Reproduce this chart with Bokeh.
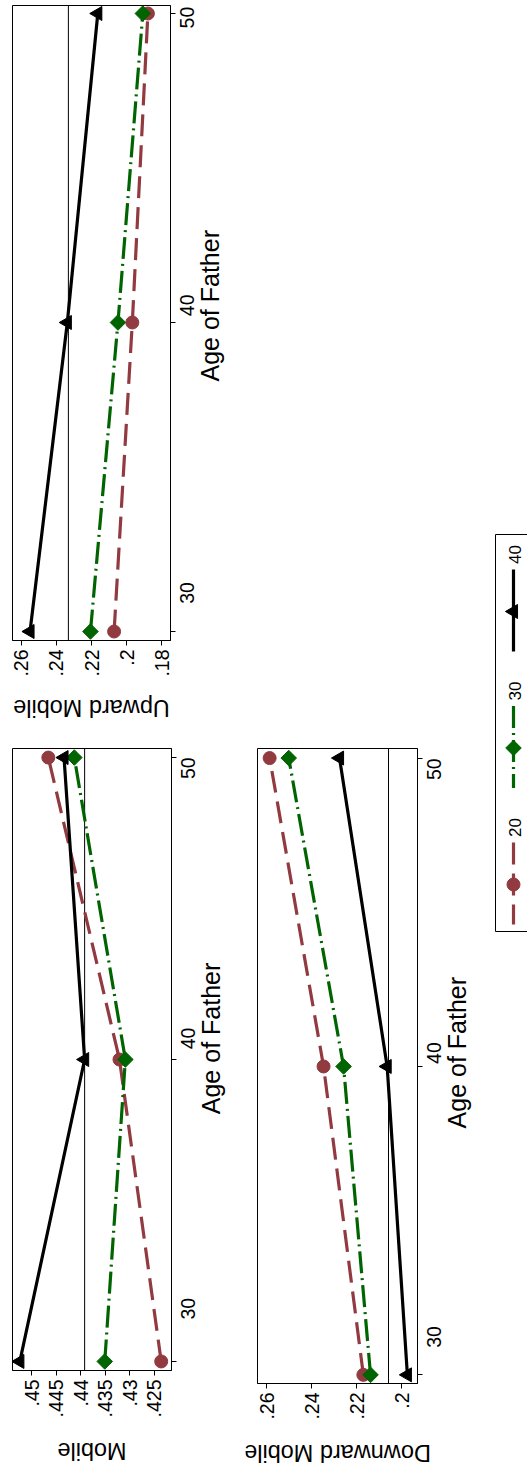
import math
from bokeh.plotting import figure
from bokeh.models import Range1d, FixedTicker, Span, Spacer, ColumnDataSource
from bokeh.layouts import row, column
from bokeh.embed import file_html
from bokeh.resources import INLINE
from bokeh.core.properties import value

# ---------------- data ----------------
ages = [30, 40, 50]
groups = ["20", "30", "40"]

mobile_20 = [0.4236, 0.4321, 0.4466]
mobile_30 = [0.4351, 0.4309, 0.4413]
mobile_40 = [0.4524, 0.4392, 0.4434]
mobile_mean = 0.4392

upward_20 = [0.2071, 0.1967, 0.1878]
upward_30 = [0.2206, 0.2049, 0.1907]
upward_40 = [0.2551, 0.2338, 0.2164]
upward_mean = 0.2332

downward_20 = [0.2171, 0.2348, 0.2588]
downward_30 = [0.2139, 0.2259, 0.2503]
downward_40 = [0.1975, 0.2065, 0.2277]
downward_mean = 0.2059

mobile_ticks = [0.425, 0.43, 0.435, 0.44, 0.445, 0.45]
mobile_tick_labels = [".425", ".43", ".435", ".44", ".445", ".45"]
upward_ticks = [0.18, 0.2, 0.22, 0.24, 0.26]
upward_tick_labels = [".18", ".2", ".22", ".24", ".26"]
downward_ticks = [0.2, 0.22, 0.24, 0.26]
downward_tick_labels = [".2", ".22", ".24", ".26"]
age_ticks = [30, 40, 50]
age_tick_labels = ["30", "40", "50"]

x_title = "Age of Father"

# ---------------- styles ----------------
FONT = "Liberation Sans"
COLORS = {"20": "#913a40", "30": "#006400", "40": "#000000"}
DASHES = {"20": "22 9", "30": "22 5 2 5", "40": "solid"}
MARKERS = {"20": ("circle", 13, 0.0), "30": ("square", 11, math.pi / 4),
           "40": ("triangle", 14, math.pi / 2)}
LINE_W = 3.2
MB_RIGHT = 7          # room for the outside ticks of the age axis
TICKLAB_X = 9         # age tick labels, px from the strip's left edge
XTITLE_X = 32         # "Age of Father", px from the strip's left edge


def bare(width, height, xr, yr):
    f = figure(width=width, height=height, x_range=Range1d(*xr), y_range=Range1d(*yr),
               output_backend="svg", toolbar_location=None,
               x_axis_location=None, y_axis_location=None, min_border=0)
    f.xgrid.visible = False
    f.ygrid.visible = False
    f.outline_line_color = None
    f.background_fill_color = None
    f.border_fill_color = None
    return f


def block(series, mean, ticks, tick_labels, title, xr, yr,
          mb_left, frame_w, mb_top, frame_h, mb_bottom, right_w, bottom_h, title_dy):
    pw = mb_left + frame_w + MB_RIGHT
    ph = mb_top + frame_h + mb_bottom
    p = figure(width=pw, height=ph,
               x_range=Range1d(start=xr[0], end=xr[1]),
               y_range=Range1d(start=yr[0], end=yr[1]),
               output_backend="svg", toolbar_location=None,
               y_axis_location="right",
               min_border_left=mb_left, min_border_right=MB_RIGHT,
               min_border_top=mb_top, min_border_bottom=mb_bottom)
    p.xgrid.visible = False
    p.ygrid.visible = False
    p.background_fill_color = "white"
    p.border_fill_color = "white"
    p.outline_line_color = "black"
    p.outline_line_width = 1
    p.outline_line_alpha = 1.0

    xa = p.xaxis[0]
    xa.ticker = FixedTicker(ticks=ticks)
    xa.major_label_overrides = {t: l for t, l in zip(ticks, tick_labels)}
    xa.major_label_orientation = math.pi / 2
    xa.major_label_text_font = FONT
    xa.major_label_text_font_size = "19.5px"
    xa.major_label_text_color = "black"
    xa.major_label_standoff = 4
    xa.major_tick_line_color = "black"
    xa.major_tick_line_width = 1
    xa.major_tick_out = 5
    xa.major_tick_in = 0
    xa.minor_tick_line_color = None
    xa.axis_line_color = "black"

    # age axis: tick marks only (its labels live in the strip on the right)
    ya = p.yaxis[0]
    ya.ticker = FixedTicker(ticks=[], minor_ticks=age_ticks)
    ya.minor_tick_line_color = "black"
    ya.minor_tick_line_width = 1
    ya.minor_tick_out = 5
    ya.minor_tick_in = 0
    ya.major_tick_line_color = None
    ya.major_label_standoff = 0
    ya.axis_line_color = "black"

    p.add_layout(Span(location=mean, dimension="height", line_color="black",
                      line_width=1, level="underlay"))

    for g, vals in zip(groups, series):
        src = ColumnDataSource(dict(v=vals, age=ages))
        p.line(x="v", y="age", source=src, line_color=COLORS[g],
               line_width=LINE_W, line_dash=DASHES[g])
        m, s, a = MARKERS[g]
        p.scatter(x="v", y="age", source=src, marker=m, size=s, angle=a,
                  fill_color=COLORS[g], line_color=COLORS[g])

    # strip on the right: age tick labels and title, on the same age scale
    ppy = frame_h / (yr[1] - yr[0])
    ry0 = yr[0] - mb_bottom / ppy
    ry1 = yr[1] + mb_top / ppy
    rs = bare(right_w, ph, (0, right_w), (ry0, ry1))
    tsrc = ColumnDataSource(dict(x=[TICKLAB_X] * len(age_ticks), y=age_ticks, t=age_tick_labels))
    rs.text(x="x", y="y", text="t", source=tsrc, angle=math.pi / 2,
            text_align="center", text_baseline="middle",
            text_font=value(FONT), text_font_size="19.5px", text_color="black")
    rs.text(x=[XTITLE_X], y=[(yr[0] + yr[1]) / 2], text=[x_title], angle=math.pi / 2,
            text_align="center", text_baseline="middle",
            text_font=value(FONT), text_font_size="25px", text_color="black")

    # strip below: y-variable title (upside down, as in the rotated original)
    bw = pw + right_w
    bs = bare(bw, bottom_h, (0, bw), (0, bottom_h))
    bs.text(x=[mb_left + frame_w / 2], y=[bottom_h - title_dy], text=[title],
            angle=math.pi, text_align="center", text_baseline="middle",
            text_font=value(FONT), text_font_size="23.5px", text_color="black")
    return column(row(p, rs), bs)


up = block([upward_20, upward_30, upward_40], upward_mean, upward_ticks, upward_tick_labels,
           "Upward Mobile", (0.2651, 0.1749), (29.709, 50.259),
           12, 158, 5, 635, 42, 68, 53, 25)
mob = block([mobile_20, mobile_30, mobile_40], mobile_mean, mobile_ticks, mobile_tick_labels,
            "Mobile", (0.4539, 0.4215), (29.70, 50.30),
            12, 159, 13, 622, 60, 67, 43, 20)
down = block([downward_20, downward_30, downward_40], downward_mean, downward_ticks,
             downward_tick_labels, "Downward Mobile", (0.2642, 0.1930), (29.72, 50.31),
             12, 160, 13, 635, 42, 56, 48, 27)

# ---------------- legend ----------------
LW, LH = 47, 414
leg = bare(LW, LH, (0, LW), (0, LH))
leg.background_fill_color = "white"
leg.quad(left=[15], right=[LW + 40], top=[LH - 8], bottom=[LH - 405],
         fill_color=None, line_color="black", line_width=1)
for i, g in enumerate(groups):
    ly = 301 - 136.5 * i  # label centre, px from the legend's top
    leg.text(x=[34], y=[LH - ly], text=[g], angle=math.pi / 2,
             text_align="center", text_baseline="middle",
             text_font=value(FONT), text_font_size="17px", text_color="black")
    leg.line(x=[33, 33], y=[LH - (ly + 15), LH - (ly + 97)], line_color=COLORS[g],
             line_width=LINE_W, line_dash=DASHES[g])
    m, s, a = MARKERS[g]
    leg.scatter(x=[33], y=[LH - (ly + 57)], marker=m, size=s, angle=a,
                fill_color=COLORS[g], line_color=COLORS[g])

colA = column(up, mob)
colB = column(Spacer(width=235, height=735), down)
colC = column(Spacer(width=LW, height=526), leg)
layout = row(colA, colB, colC)

open("out.html", "w").write(file_html(layout, INLINE))
